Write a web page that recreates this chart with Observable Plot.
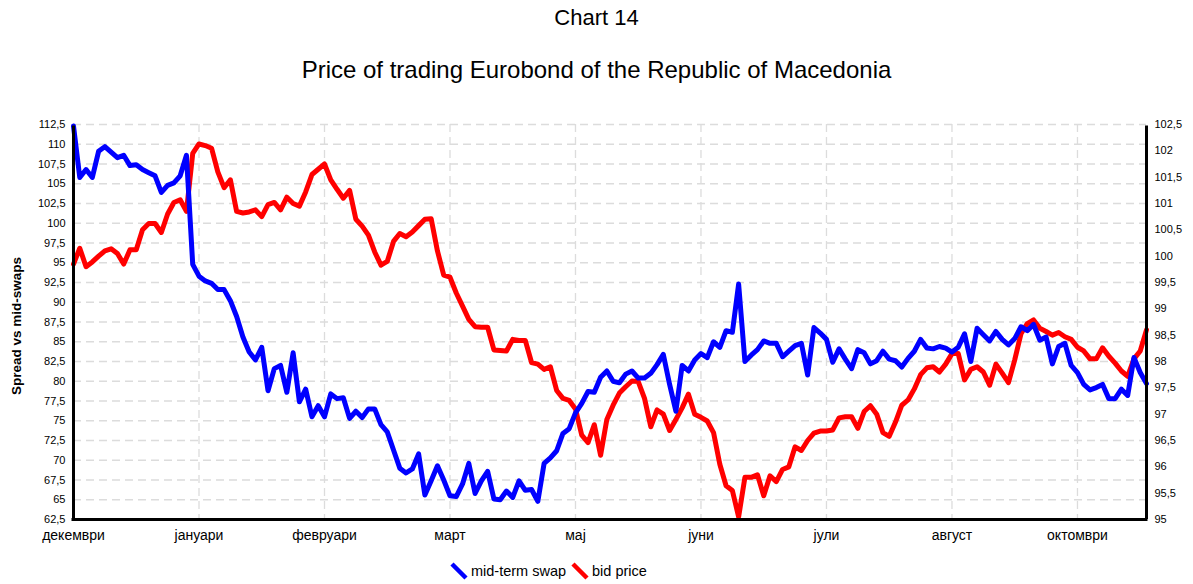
<!DOCTYPE html>
<html><head><meta charset="utf-8">
<script src="https://cdn.jsdelivr.net/npm/d3@7"></script>
<script src="https://cdn.jsdelivr.net/npm/@observablehq/plot@0.6"></script>
<style>
body{margin:0;background:#fff;font-family:"Liberation Sans",Arial,sans-serif;color:#000;}
#wrap{width:1193px;position:relative;}
.t1{height:36px;line-height:36px;font-size:22px;text-align:center;}
.t2{margin-top:16px;height:36px;line-height:36px;font-size:24px;text-align:center;}
#chart svg{display:block;}
.legend{position:relative;height:32px;font-size:14.5px;}
.key{position:absolute;top:0;height:32px;display:flex;align-items:center;}
.key svg{margin-right:2px;}
</style></head><body>
<div id="wrap">
<div class="t1">Chart 14</div>
<div class="t2">Price of trading Eurobond of the Republic of Macedonia</div>
<div id="chart"></div>
<div class="legend" id="legend"></div>
</div>
<script>
const title = "Price of trading Eurobond of the Republic of Macedonia";
const yLabel = "Spread vs mid-swaps";
const months = ["декември","јануари","февруари","март","мај","јуни","јули","август","октомври"];
const pointsPerLabel = 20;
const seriesNames = ["mid-term swap", "bid price"];
const seriesColors = ["#0000ff", "#ff0000"];

// mid-term swap spread (left axis)
const swap = [
 112.3,105.8,106.8,105.8,109.1,109.7,109.0,108.3,108.6,107.3,
 107.4,106.8,106.4,106.0,103.9,104.8,105.1,106.0,108.6,94.8,
 93.3,92.7,92.4,91.6,91.6,90.2,88.2,85.6,83.7,82.7,
 84.3,78.8,81.6,82.0,78.6,83.6,77.4,79.0,75.5,76.9,
 75.5,78.4,77.8,77.9,75.3,76.2,75.4,76.5,76.5,74.5,
 73.6,71.3,69.0,68.4,68.9,70.8,65.6,67.4,69.3,67.5,
 65.5,65.4,67.0,69.6,65.8,67.4,68.6,65.1,65.0,66.1,
 65.3,67.4,66.2,66.3,64.8,69.6,70.3,71.2,73.4,74.0,
 76.0,77.2,78.7,78.6,80.5,81.3,80.0,79.8,80.9,81.3,
 80.4,80.4,81.0,82.1,83.4,79.6,76.2,82.0,81.3,82.7,
 83.5,83.0,85.0,84.3,86.4,86.2,92.3,82.5,83.3,84.0,
 85.1,84.8,84.8,83.1,83.8,84.5,84.8,80.8,86.8,86.1,
 85.3,82.4,84.1,82.8,81.6,84.0,83.6,82.2,82.6,83.8,
 82.8,82.6,81.8,82.9,83.8,85.3,84.2,84.1,84.4,84.2,
 83.7,84.3,86.0,82.5,86.7,85.9,85.1,86.3,85.3,84.6,
 85.4,86.9,86.4,87.2,85.2,85.6,82.2,84.4,84.8,82.0,
 81.1,79.6,78.9,79.2,79.6,77.8,77.8,79.0,78.2,83.0,
 81.1,79.7
];
// bid price (right axis)
const bid = [
 99.85,100.15,99.8,99.89,100.0,100.1,100.14,100.05,99.85,100.12,
 100.12,100.5,100.62,100.62,100.45,100.8,101.02,101.07,100.85,101.95,
 102.13,102.1,102.05,101.6,101.3,101.45,100.85,100.82,100.84,100.88,
 100.75,100.98,101.02,100.88,101.12,101.0,100.95,101.22,101.55,101.65,
 101.75,101.45,101.27,101.1,101.25,100.7,100.57,100.4,100.08,99.83,
 99.9,100.28,100.43,100.37,100.46,100.58,100.7,100.71,100.1,99.64,
 99.6,99.3,99.05,98.8,98.66,98.65,98.65,98.22,98.21,98.2,
 98.42,98.4,98.4,97.98,97.95,97.85,97.9,97.45,97.3,97.26,
 97.1,96.6,96.46,96.8,96.22,96.9,97.17,97.4,97.52,97.63,
 97.62,97.3,96.76,97.08,97.0,96.69,96.9,97.12,97.38,97.0,
 96.94,96.87,96.65,96.05,95.64,95.55,95.05,95.8,95.8,95.85,
 95.45,95.83,95.72,95.95,96.0,96.38,96.31,96.5,96.64,96.68,
 96.68,96.7,96.93,96.95,96.95,96.73,97.05,97.16,97.0,96.65,
 96.58,96.85,97.17,97.27,97.48,97.75,97.88,97.9,97.8,97.95,
 98.15,98.15,97.65,97.85,97.9,97.8,97.55,97.95,97.78,97.6,
 98.03,98.53,98.72,98.79,98.63,98.57,98.5,98.55,98.47,98.42,
 98.27,98.2,98.05,98.05,98.26,98.1,97.97,97.82,97.72,98.05,
 98.2,98.6
];
const leftDomain = [62.5, 112.5];
const rightDomain = [95, 102.5];
const leftTicks = d3.range(0, 21).map(k => 62.5 + k * 2.5);
const rightTicks = d3.range(0, 16).map(k => 95 + k * 0.5);

const toLeft = v => leftDomain[0] + (v - rightDomain[0]) * (leftDomain[1] - leftDomain[0]) / (rightDomain[1] - rightDomain[0]);
const toRight = v => rightDomain[0] + (v - leftDomain[0]) * (rightDomain[1] - rightDomain[0]) / (leftDomain[1] - leftDomain[0]);
const fmt = v => String(Math.round(v * 10) / 10).replace(".", ",");
const lastIndex = swap.length - 1;
const monthTicks = months.map((m, i) => i * pointsPerLabel);

const chart = Plot.plot({
  width: 1193, height: 467,
  marginLeft: 73, marginRight: 47, marginTop: 36, marginBottom: 36,
  x: {domain: [0, lastIndex], axis: null},
  y: {domain: leftDomain, axis: null},
  style: {fontFamily: '"Liberation Sans", Arial, sans-serif', fontSize: "11px", color: "#000", background: "#fff", overflow: "visible"},
  marks: [
    Plot.ruleY(leftTicks, {y: d => d, stroke: "#dcdcdc", strokeWidth: 1.3, strokeDasharray: "8,5"}),
    Plot.ruleX(monthTicks.slice(1), {x: d => d, stroke: "#dcdcdc", strokeWidth: 1.3, strokeDasharray: "8,5"}),
    Plot.axisY(leftTicks, {anchor: "left", tickSize: 0, tickPadding: 8, tickFormat: fmt, label: null, fontSize: 11}),
    Plot.axisY(rightTicks.map(toLeft), {anchor: "right", tickSize: 0, tickPadding: 8, tickFormat: d => fmt(toRight(d)), label: null, fontSize: 11}),
    Plot.axisX(monthTicks, {anchor: "bottom", tickSize: 0, tickPadding: 11, tickFormat: (d, i) => months[i], label: null, fontSize: 14}),
    Plot.text([yLabel], {frameAnchor: "left", rotate: -90, dx: -57, dy: 4, textAnchor: "middle", fontWeight: "bold", fontSize: 13.5, text: d => d}),
    Plot.line(bid, {x: (d, i) => i, y: d => toLeft(d), stroke: seriesColors[1], strokeWidth: 5, strokeLinejoin: "round"}),
    Plot.line(swap, {x: (d, i) => i, y: d => d, stroke: seriesColors[0], strokeWidth: 5, strokeLinejoin: "round"}),
    Plot.ruleX([0, lastIndex], {x: d => d, y1: leftDomain[0], y2: leftDomain[1], stroke: "#000", strokeWidth: 3, insetBottom: -1.5}),
    Plot.ruleY([leftDomain[0]], {y: d => d, stroke: "#000", strokeWidth: 3, insetLeft: -1.5, insetRight: -1.5})
  ]
});
document.getElementById("chart").appendChild(chart);

const legend = document.getElementById("legend");
const keyLefts = [449, 570];
seriesNames.forEach((name, i) => {
  const k = document.createElement("span");
  k.className = "key";
  k.style.left = keyLefts[i] + "px";
  k.innerHTML = `<svg width="20" height="20"><line x1="3" y1="3" x2="17" y2="17" stroke="${seriesColors[i]}" stroke-width="4.5"/></svg>${name}`;
  legend.appendChild(k);
});
</script>
</body></html>
